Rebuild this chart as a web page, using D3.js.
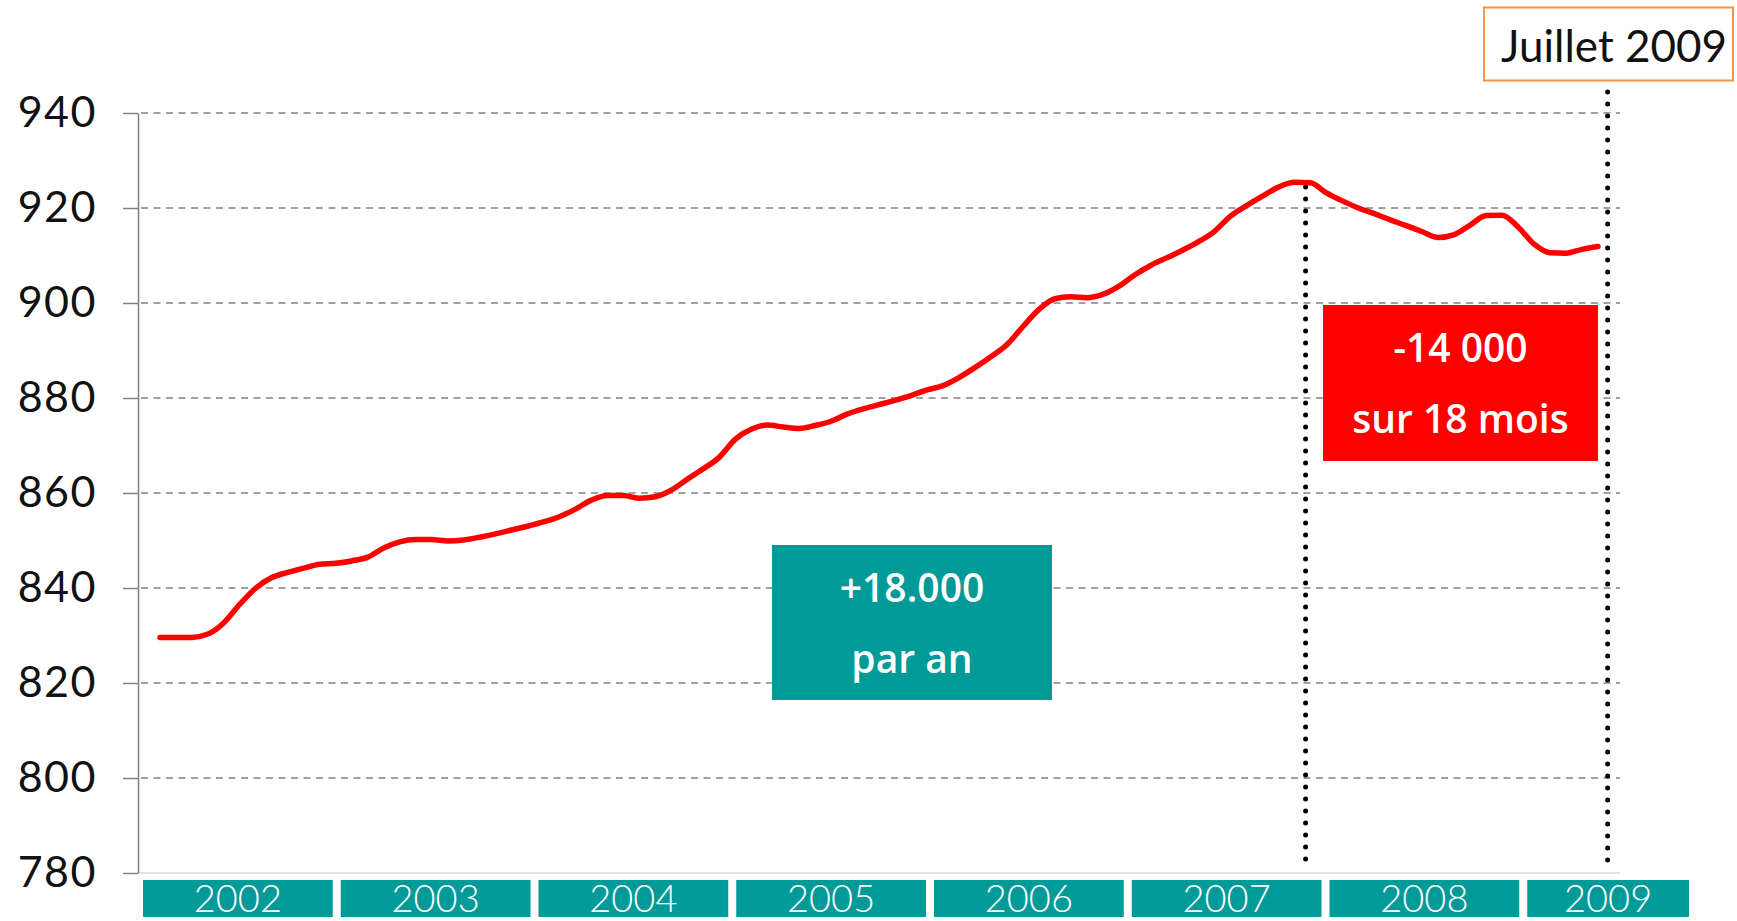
<!DOCTYPE HTML>
<html lang="fr">
<head>
	<meta charset="utf-8">
	<script src="https://cdn.jsdelivr.net/npm/d3@7"></script>
	<style>
		body { margin: 0; background: #fff; }
		svg { display: block; }
	</style>
</head>
<body>
	<script>

		// monthly values, Jan 2002 -> Jul 2009 (thousands)
		var values = [
			829.6, 829.6, 829.6, 830.3, 832.7, 836.6, 840.0, 842.2, 843.3, 844.2, 845.0, 845.2,
			845.7, 846.5, 848.4, 849.7, 850.2, 850.2, 849.9, 850.1, 850.7, 851.4, 852.2, 853.0,
			853.9, 855.0, 856.6, 858.5, 859.5, 859.5, 858.9, 859.2, 860.6, 862.9, 865.1, 867.5,
			871.3, 873.4, 874.3, 873.9, 873.6, 874.2, 875.1, 876.6, 877.7, 878.6, 879.5, 880.5,
			881.7, 882.6, 884.3, 886.4, 888.7, 891.2, 895.0, 898.6, 900.9, 901.3, 901.1, 901.8,
			903.5, 905.9, 907.9, 909.5, 911.1, 912.9, 915.1, 918.3, 920.5, 922.5, 924.4, 925.4,
			925.3, 923.2, 921.5, 920.0, 918.8, 917.5, 916.3, 915.0, 913.8, 914.4, 916.4, 918.4,
			918.5, 916.0, 912.4, 910.6, 910.5, 911.3, 911.9
		];

		var years = [2002, 2003, 2004, 2005, 2006, 2007, 2008, 2009];
		var yTicks = [780, 800, 820, 840, 860, 880, 900, 920, 940];
		var gridTicks = [800, 820, 840, 860, 880, 900, 920, 940];

		// month index of the two dotted markers (peak, juillet 2009)
		var markerMonths = [71.7, 90.6];
		var markerLabel = "Juillet 2009";

		var upText = ["+18.000", "par an"];
		var downText = ["-14 000", "sur 18 mois"];

		var w = 1737;
		var h = 921;
		var teal = "#009a98";
		var labelFont = "Lato, 'Open Sans', sans-serif";
		var boxFont = "'Open Sans', sans-serif";

		var svg = d3.select("body")
			.append("svg")
			.attr("width", w)
			.attr("height", h);

		var x = d3.scaleLinear().domain([0, values.length - 1]).range([160, 1598]);
		var y = d3.scaleLinear().domain([780, 940]).range([873, 113]);
		var yearX = d3.scaleLinear().domain([2002, 2010]).range([143, 1725]);

		var gridLeft = 141;
		var gridRight = 1620;

		// grid
		svg.selectAll(".grid")
			.data(gridTicks)
			.enter()
			.append("line")
			.attr("class", "grid")
			.attr("x1", gridLeft)
			.attr("x2", gridRight)
			.attr("y1", function(d) { return y(d); })
			.attr("y2", function(d) { return y(d); })
			.attr("stroke", "#444")
			.attr("stroke-width", 1.2)
			.attr("stroke-dasharray", "7,5.5");

		// base line
		svg.append("line")
			.attr("x1", 138)
			.attr("x2", gridRight)
			.attr("y1", y(780))
			.attr("y2", y(780))
			.attr("stroke", "#e2e2e2")
			.attr("stroke-width", 2);

		// y axis
		var yAxis = svg.append("g")
			.attr("transform", "translate(138,0)")
			.call(d3.axisLeft(y).tickValues(yTicks).tickSize(15).tickSizeOuter(0).tickPadding(26));

		yAxis.select(".domain").attr("stroke", "#808080").attr("stroke-width", 1.5);
		yAxis.selectAll(".tick line").attr("stroke", "#808080").attr("stroke-width", 1.5);
		yAxis.selectAll(".tick text")
			.attr("fill", "#111")
			.style("font-family", labelFont)
			.style("font-size", "43px")
			.style("letter-spacing", "1.5px");

		// year bands
		var bands = svg.selectAll(".band")
			.data(years)
			.enter()
			.append("g")
			.attr("class", "band");

		function bandRight(d) { return Math.min(yearX(d + 1) - 8, 1689); }

		bands.append("rect")
			.attr("x", function(d) { return yearX(d); })
			.attr("y", 880)
			.attr("width", function(d) { return bandRight(d) - yearX(d); })
			.attr("height", 37)
			.attr("fill", teal);

		bands.append("text")
			.attr("x", function(d) { return (yearX(d) + bandRight(d)) / 2; })
			.attr("y", 912)
			.attr("text-anchor", "middle")
			.attr("fill", "#fff")
			.style("font-family", labelFont)
			.style("font-weight", 300)
			.style("font-size", "38px")
			.text(function(d) { return d; });

		// dotted markers
		var markerTops = [187, 92];
		svg.selectAll(".marker")
			.data(markerMonths)
			.enter()
			.append("line")
			.attr("class", "marker")
			.attr("x1", function(d) { return x(d); })
			.attr("x2", function(d) { return x(d); })
			.attr("y1", function(d, i) { return markerTops[i]; })
			.attr("y2", 862)
			.attr("stroke", "#000")
			.attr("stroke-width", 5)
			.attr("stroke-linecap", "round")
			.attr("stroke-dasharray", "0,12");

		// series line
		var line = d3.line()
			.x(function(d, i) { return x(i); })
			.y(function(d) { return y(d); })
			.curve(d3.curveMonotoneX);

		svg.append("path")
			.datum(values)
			.attr("d", line)
			.attr("fill", "none")
			.attr("stroke", "#ff0000")
			.attr("stroke-width", 5.5)
			.attr("stroke-linejoin", "round")
			.attr("stroke-linecap", "round");

		// annotation boxes
		function box(x0, y0, bw, bh, fill, lines) {
			svg.append("rect")
				.attr("x", x0)
				.attr("y", y0)
				.attr("width", bw)
				.attr("height", bh)
				.attr("fill", fill);

			svg.selectAll(null)
				.data(lines)
				.enter()
				.append("text")
				.attr("x", x0 + bw / 2)
				.attr("y", function(d, i) { return y0 + 57 + i * 71; })
				.attr("text-anchor", "middle")
				.attr("fill", "#fff")
				.style("font-family", boxFont)
				.style("font-weight", 600)
				.style("font-size", "39px")
				.text(function(d) { return d; });
		}

		box(772, 545, 280, 155, teal, upText);
		box(1323, 305, 275, 156, "#ff0000", downText);

		// juillet 2009 label
		svg.append("rect")
			.attr("x", 1484)
			.attr("y", 7.5)
			.attr("width", 249)
			.attr("height", 73)
			.attr("fill", "#fff")
			.attr("stroke", "#f79646")
			.attr("stroke-width", 2);

		svg.append("text")
			.attr("x", 1614)
			.attr("y", 62)
			.attr("text-anchor", "middle")
			.attr("fill", "#111")
			.style("font-family", labelFont)
			.style("font-size", "44px")
			.text(markerLabel);

	</script>
</body>
</html>
